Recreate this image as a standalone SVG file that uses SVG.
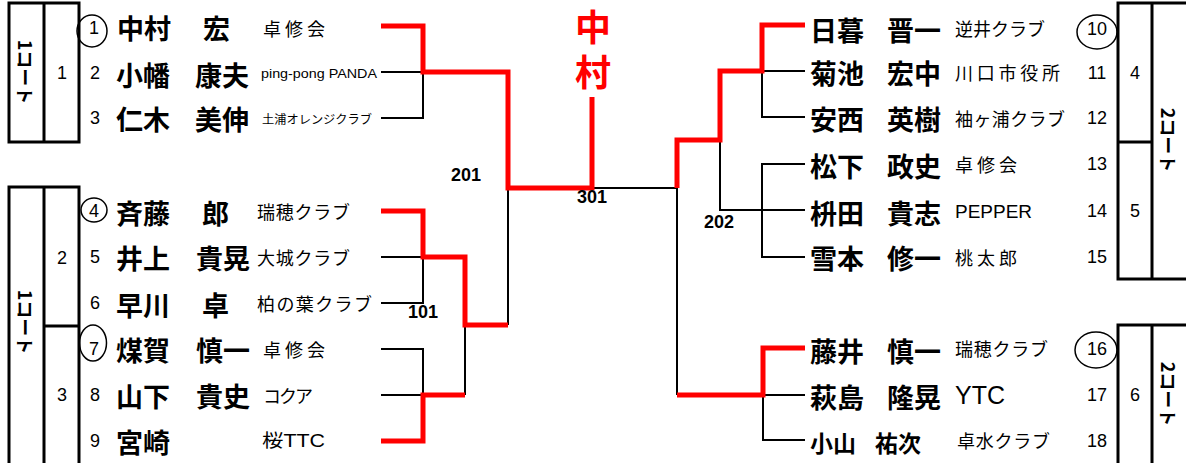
<svg xmlns="http://www.w3.org/2000/svg" width="1186" height="463" viewBox="0 0 1186 463">
<style>
text{dominant-baseline:central}
.nm{font-family:"Noto Sans CJK JP","Noto Sans CJK SC",sans-serif;font-weight:bold;font-size:27px;fill:#000}
.nm2{font-family:"Noto Sans CJK JP",sans-serif;font-weight:bold;font-size:23px;fill:#000}
.cl{font-family:"Noto Sans CJK JP",sans-serif;font-size:18px;fill:#000}
.lat{font-family:"Liberation Sans","Noto Sans CJK JP",Arial,sans-serif;fill:#000}
.num{font-family:"Liberation Sans",Arial,sans-serif;font-size:18px;fill:#000;text-anchor:middle}
.lbl{font-family:"Liberation Sans",Arial,sans-serif;font-size:18px;font-weight:bold;fill:#000;text-anchor:middle}
.court{font-family:"Noto Sans CJK JP",sans-serif;font-size:18px;font-weight:bold;fill:#000;text-anchor:middle}
.box{fill:none;stroke:#000;stroke-width:3}
.blk{fill:none;stroke:#000;stroke-width:2}
.red{fill:none;stroke:#ff0000;stroke-width:5}
.circ{fill:none;stroke:#000;stroke-width:1.5}
</style>
<g id="court-boxes">
  <path class="box" d="M9,3 H79 V142 H9 Z M44,3 V142"/>
  <path class="box" d="M9,463 V187 H79 V463 M44,187 V463 M44,326 H79"/>
  <text class="court" transform="translate(26,72) rotate(90)">1コート</text>
  <text class="court" transform="translate(26,322) rotate(90)">1コート</text>
  <text class="num" x="62" y="73">1</text>
  <text class="num" x="62" y="258">2</text>
  <text class="num" x="62" y="395">3</text>
  <path class="box" d="M1190,3 H1118 V279 H1190 M1152,3 V279 M1118,142 H1152"/>
  <path class="box" d="M1190,325 H1118 V463 M1152,325 V463"/>
  <text class="court" transform="translate(1169,140) rotate(90)">2コート</text>
  <text class="court" transform="translate(1169,394) rotate(90)">2コート</text>
  <text class="num" x="1135" y="73">4</text>
  <text class="num" x="1135" y="211">5</text>
  <text class="num" x="1135" y="395">6</text>
</g>
<g id="connectors">
  <path class="blk" d="M381,72 H423 V118 H381"/>
  <path class="blk" d="M381,257 H423 V303 H381"/>
  <path class="blk" d="M381,349 H423 V395 H381"/>
  <path class="blk" d="M465,325 V395"/>
  <path class="blk" d="M508,188 V325"/>
  <path class="blk" d="M592,188 H677 V395"/>
  <path class="blk" d="M720,140 V210 H805"/>
  <path class="blk" d="M805,71 H762 V117 H805"/>
  <path class="blk" d="M805,164 H762 V257 H805"/>
  <path class="blk" d="M805,395 H763 V440 H805"/>
  <path class="red" d="M381,26 H423 V72 H508 V188 H592 V97"/>
  <path class="red" d="M381,211 H423 V257 H465 V325 H508"/>
  <path class="red" d="M381,441 H423 V395 H465"/>
  <path class="red" d="M677,188 V140 H720 V71 H762 V25 H805"/>
  <path class="red" d="M677,395 H763 V348 H805"/>
  <text class="lbl" x="423" y="312">101</text>
  <text class="lbl" x="466" y="175">201</text>
  <text class="lbl" x="719" y="222">202</text>
  <text class="lbl" x="592" y="197">301</text>
</g>
<g id="winner">
  <text x="593" y="9" style="writing-mode:vertical-rl;font-family:'Noto Sans CJK JP',sans-serif;font-size:36px;font-weight:bold;fill:#ff0000;letter-spacing:9px">中村</text>
</g>
<g id="p1">
  <ellipse class="circ" cx="92" cy="31" rx="15" ry="16"/>
  <text class="num" x="94" y="28">1</text>
  <text class="nm" x="117" y="27">中村</text><text class="nm" x="203" y="27">宏</text>
  <text class="cl" x="263" y="28" textLength="62" lengthAdjust="spacing">卓修会</text>
</g>
<g id="p2">
  <text class="num" x="95" y="73">2</text>
  <text class="nm" x="116" y="74">小幡</text><text class="nm" x="195" y="74">康夫</text>
  <text class="lat" x="261" y="73" style="font-size:13px" textLength="116" lengthAdjust="spacingAndGlyphs">ping-pong PANDA</text>
</g>
<g id="p3">
  <text class="num" x="95" y="118">3</text>
  <text class="nm" x="116" y="118">仁木</text><text class="nm" x="195" y="118">美伸</text>
  <text class="cl" x="262" y="118" style="font-size:12px" textLength="110" lengthAdjust="spacingAndGlyphs">土浦オレンジクラブ</text>
</g>
<g id="p4">
  <ellipse class="circ" cx="94" cy="210" rx="13" ry="12"/>
  <text class="num" x="94" y="211">4</text>
  <text class="nm" x="116" y="212">斉藤</text><text class="nm" x="202" y="212">郎</text>
  <text class="cl" x="257" y="211" textLength="93" lengthAdjust="spacing">瑞穂クラブ</text>
</g>
<g id="p5">
  <text class="num" x="95" y="257">5</text>
  <text class="nm" x="116" y="257">井上</text><text class="nm" x="196" y="257">貴晃</text>
  <text class="cl" x="257" y="257" textLength="93" lengthAdjust="spacing">大城クラブ</text>
</g>
<g id="p6">
  <text class="num" x="95" y="303">6</text>
  <text class="nm" x="116" y="304">早川</text><text class="nm" x="202" y="304">卓</text>
  <text class="cl" x="257" y="303" textLength="115" lengthAdjust="spacing">柏の葉クラブ</text>
</g>
<g id="p7">
  <ellipse class="circ" cx="93" cy="343" rx="13.5" ry="18"/>
  <text class="num" x="94" y="349">7</text>
  <text class="nm" x="116" y="349">煤賀</text><text class="nm" x="196" y="349">慎一</text>
  <text class="cl" x="263" y="349" textLength="62" lengthAdjust="spacing">卓修会</text>
</g>
<g id="p8">
  <text class="num" x="95" y="395">8</text>
  <text class="nm" x="116" y="395">山下</text><text class="nm" x="196" y="395">貴史</text>
  <text class="cl" x="263" y="395" textLength="50" lengthAdjust="spacing">コクア</text>
</g>
<g id="p9">
  <text class="num" x="95" y="441">9</text>
  <text class="nm" x="116" y="441">宮崎</text>
  <text class="lat" x="262" y="441" style="font-size:18px" textLength="63" lengthAdjust="spacingAndGlyphs">桜TTC</text>
</g>
<g id="p10">
  <text class="nm" x="810" y="29">日暮</text><text class="nm" x="887" y="29">晋一</text>
  <text class="cl" x="955" y="28" textLength="90" lengthAdjust="spacing">逆井クラブ</text>
  <ellipse class="circ" cx="1097" cy="32" rx="20" ry="17"/>
  <text class="num" x="1097" y="29">10</text>
</g>
<g id="p11">
  <text class="nm" x="810" y="72">菊池</text><text class="nm" x="887" y="72">宏中</text>
  <text class="cl" x="955" y="72" textLength="105" lengthAdjust="spacing">川口市役所</text>
  <text class="num" x="1097" y="73">11</text>
</g>
<g id="p12">
  <text class="nm" x="810" y="118">安西</text><text class="nm" x="887" y="118">英樹</text>
  <text class="cl" x="955" y="118" textLength="110" lengthAdjust="spacing">袖ヶ浦クラブ</text>
  <text class="num" x="1097" y="118">12</text>
</g>
<g id="p13">
  <text class="nm" x="810" y="165">松下</text><text class="nm" x="887" y="165">政史</text>
  <text class="cl" x="955" y="164" textLength="62" lengthAdjust="spacing">卓修会</text>
  <text class="num" x="1097" y="164">13</text>
</g>
<g id="p14">
  <text class="nm" x="810" y="212">枡田</text><text class="nm" x="887" y="212">貴志</text>
  <text class="lat" x="955" y="211" style="font-size:19px" textLength="77" lengthAdjust="spacingAndGlyphs">PEPPER</text>
  <text class="num" x="1097" y="211">14</text>
</g>
<g id="p15">
  <text class="nm" x="810" y="257">雪本</text><text class="nm" x="887" y="257">修一</text>
  <text class="cl" x="955" y="257" textLength="62" lengthAdjust="spacing">桃太郎</text>
  <text class="num" x="1097" y="257">15</text>
</g>
<g id="p16">
  <text class="nm" x="810" y="350">藤井</text><text class="nm" x="887" y="350">慎一</text>
  <text class="cl" x="955" y="348" textLength="93" lengthAdjust="spacing">瑞穂クラブ</text>
  <ellipse class="circ" cx="1096" cy="350" rx="21" ry="18"/>
  <text class="num" x="1097" y="349">16</text>
</g>
<g id="p17">
  <text class="nm" x="810" y="396">萩島</text><text class="nm" x="887" y="396">隆晃</text>
  <text class="lat" x="955" y="395" style="font-size:25px" textLength="50" lengthAdjust="spacingAndGlyphs">YTC</text>
  <text class="num" x="1097" y="395">17</text>
</g>
<g id="p18">
  <text class="nm2" x="810" y="442">小山</text><text class="nm2" x="875" y="442">祐次</text>
  <text class="cl" x="957" y="440" textLength="93" lengthAdjust="spacing">卓水クラブ</text>
  <text class="num" x="1097" y="441">18</text>
</g>
</svg>
